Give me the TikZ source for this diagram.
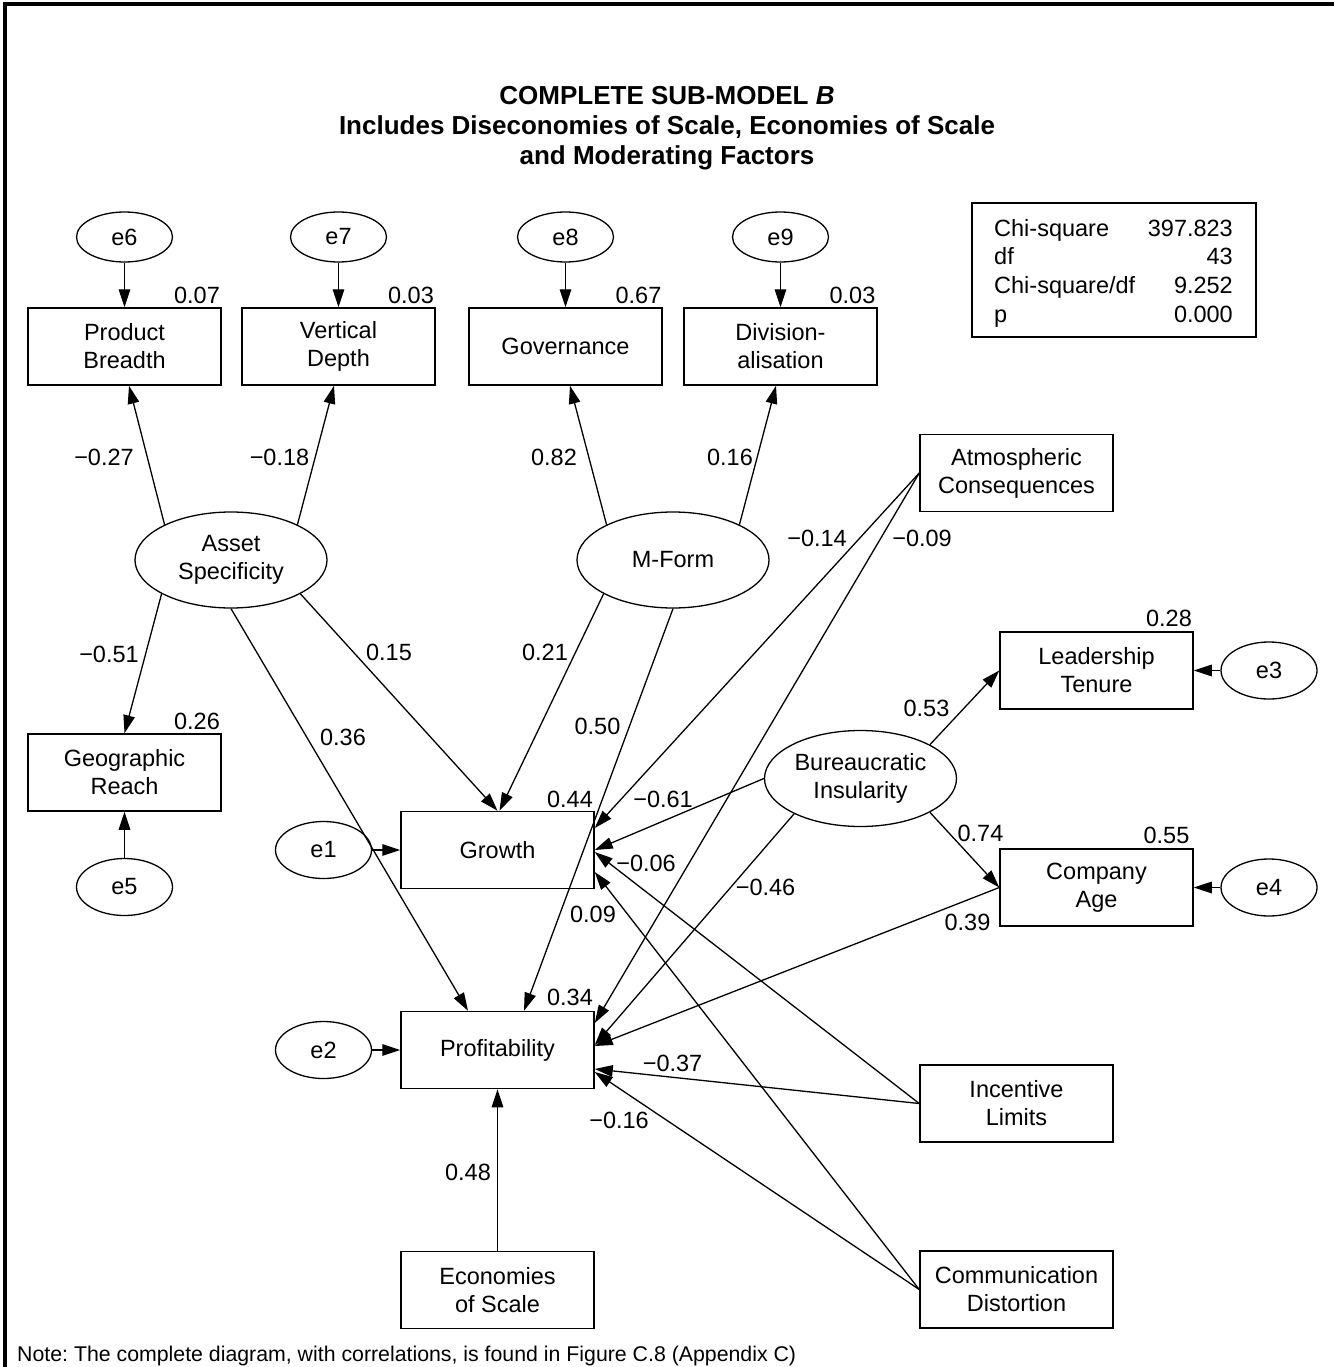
\documentclass[tikz,border=0pt]{standalone}
\usepackage{fontspec}
\setmainfont{Liberation Sans}
\usetikzlibrary{shapes.geometric,arrows.meta,calc}
\begin{document}
\begin{tikzpicture}[x=1pt,y=-1pt,
 every node/.style={inner sep=0pt, font=\fontsize{23.5}{28}\selectfont},
 box/.style={draw, line width=1.5pt, minimum width=193pt, minimum height=77pt, align=center},
 lat/.style={draw, ellipse, line width=1.3pt, minimum width=192pt, minimum height=96pt, align=center},
 err/.style={draw, ellipse, line width=1.3pt, minimum width=96pt, minimum height=57pt},
 errt/.style={err, minimum height=50pt},
 arr/.style={line width=1.3pt, -{Triangle[length=18pt,width=11.5pt]}},
 lbl/.style={}
]
\useasboundingbox (0,0) rectangle (1334,1367);
\fill[white] (0,0) rectangle (1334,1367);
\draw[line width=4pt] (5,1367) -- (5,4) -- (1334,4);

\node[align=center, font=\bfseries\fontsize{26}{30}\selectfont] (title) at (667,128)
 {COMPLETE SUB-MODEL \textit{B}\\Includes Diseconomies of Scale, Economies of Scale\\and Moderating Factors};

% fit box
\node[draw, line width=1.5pt, minimum width=284pt, minimum height=134pt] (fitbox) at (1114,270) {};
\node[anchor=base west] (c1) at (994,236) {Chi-square};
\node[anchor=base east] (v1) at (1233,236) {397.823};
\node[anchor=base west] (c2) at (994,264.5) {df};
\node[anchor=base east] (v2) at (1233,264.5) {43};
\node[anchor=base west] (c3) at (994,293.5) {Chi-square/df};
\node[anchor=base east] (v3) at (1233,293.5) {9.252};
\node[anchor=base west] (c4) at (994,322) {p};
\node[anchor=base east] (v4) at (1233,322) {0.000};

% nodes
\node[errt] (e6) at (124.5,237) {e6};
\node[errt] (e7) at (338.5,237) {e7};
\node[errt] (e8) at (565.5,237) {e8};
\node[errt] (e9) at (780.5,237) {e9};
\node[box] (pb) at (124.5,346.5) {Product\\Breadth};
\node[box] (vd) at (338.5,346.5) {Vertical\\Depth};
\node[box] (gov) at (565.5,346.5) {Governance};
\node[box] (div) at (780.5,346.5) {Division-\\alisation};
\node[box] (atm) at (1016.5,473) {Atmospheric\\Consequences};
\node[lat] (as) at (231,560) {Asset\\Specificity};
\node[lat] (mf) at (673,560) {M-Form};
\node[box] (gr) at (124.5,772.5) {Geographic\\Reach};
\node[err] (e5) at (124.5,887) {e5};
\node[box] (lt) at (1096.5,670.5) {Leadership\\Tenure};
\node[err] (e3) at (1269,670.5) {e3};
\node[lat] (bi) at (860.5,778.5) {Bureaucratic\\Insularity};
\node[box] (age) at (1096.5,887.5) {Company\\Age};
\node[err] (e4) at (1269,887.5) {e4};
\node[err] (e1) at (323.5,850) {e1};
\node[box] (gro) at (497.5,850) {Growth};
\node[err] (e2) at (323.5,1050) {e2};
\node[box] (pro) at (497.5,1050) {Profitability};
\node[box] (inc) at (1016.5,1103.5) {Incentive\\Limits};
\node[box] (com) at (1016.5,1289.5) {Communication\\Distortion};
\node[box] (eco) at (497.5,1290) {Economies\\of Scale};

% connectors
\draw[arr] (e6.south) -- (pb.north);
\draw[arr] (e7.south) -- (vd.north);
\draw[arr] (e8.south) -- (gov.north);
\draw[arr] (e9.south) -- (div.north);
\draw[arr] (as.152) -- ([xshift=4.5pt]pb.south);
\draw[arr] (as.28) -- ([xshift=-4.5pt]vd.south);
\draw[arr] (mf.152) -- ([xshift=4.5pt]gov.south);
\draw[arr] (mf.28) -- ([xshift=-4.5pt]div.south);
\draw[arr] (as.206) -- (gr.north);
\draw[arr] (e5.north) -- (gr.south);
\draw[arr] (as.south) -- ([xshift=-29.5pt]pro.north);
\draw[arr] (as.334) -- (gro.north);
\draw[arr] (mf.206) -- ([xshift=2pt]gro.north);
\draw[arr] (mf.south) -- ([xshift=26.5pt]pro.north);
\draw[arr] (atm.west) -- ([yshift=22pt]gro.east);
\draw[arr] (atm.west) -- ([yshift=27pt]pro.east);
\draw[arr] (bi.west) -- (gro.east);
\draw[arr] (bi.208) -- ([yshift=5pt]pro.east);
\draw[arr] (bi.26) -- (lt.west);
\draw[arr] (bi.334) -- (age.west);
\draw[arr] (e3.west) -- (lt.east);
\draw[arr] (e4.west) -- (age.east);
\draw[arr] (age.west) -- ([yshift=4pt]pro.east);
\draw[arr] (inc.west) -- ([yshift=-2pt]gro.east);
\draw[arr] (inc.west) -- ([yshift=-19pt]pro.east);
\draw[arr] (com.west) -- ([yshift=-22pt]gro.east);
\draw[arr] (com.west) -- ([yshift=-22pt]pro.east);
\draw[arr] (eco.north) -- (pro.south);
\draw[arr] (e1.east) -- (gro.west);
\draw[arr] (e2.east) -- (pro.west);

% labels
\node[lbl] (l1) at (197,295) {0.07};
\node[lbl] (l2) at (411,295) {0.03};
\node[lbl] (l3) at (638.5,295) {0.67};
\node[lbl] (l4) at (852.5,295) {0.03};
\node[lbl] (l5) at (104,457) {−0.27};
\node[lbl] (l6) at (279.5,457) {−0.18};
\node[lbl] (l7) at (554,457) {0.82};
\node[lbl] (l8) at (730,457) {0.16};
\node[lbl] (l9) at (817,538) {−0.14};
\node[lbl] (l10) at (922,538) {−0.09};
\node[lbl] (l11) at (109,654) {−0.51};
\node[lbl] (l12) at (197,721) {0.26};
\node[lbl] (l13) at (343,737) {0.36};
\node[lbl] (l14) at (389,652) {0.15};
\node[lbl] (l15) at (545,652) {0.21};
\node[lbl] (l16) at (597.5,726) {0.50};
\node[lbl] (l17) at (570,799) {0.44};
\node[lbl] (l18) at (663,799) {−0.61};
\node[lbl] (l19) at (646,863) {−0.06};
\node[lbl] (l20) at (765.5,887) {−0.46};
\node[lbl] (l21) at (593,914) {0.09};
\node[lbl] (l22) at (570,997) {0.34};
\node[lbl] (l23) at (926.5,708) {0.53};
\node[lbl] (l24) at (1169,618) {0.28};
\node[lbl] (l25) at (980.5,833) {0.74};
\node[lbl] (l26) at (1166.5,835) {0.55};
\node[lbl] (l27) at (967.5,922) {0.39};
\node[lbl] (l28) at (672.5,1063) {−0.37};
\node[lbl] (l29) at (619,1120) {−0.16};
\node[lbl] (l30) at (468,1172) {0.48};

\node[anchor=base west, font=\fontsize{21.3}{26}\selectfont\frenchspacing] (note) at (17,1361) {Note: The complete diagram, with correlations, is found in Figure C.8 (Appendix C)};
\end{tikzpicture}
\end{document}
